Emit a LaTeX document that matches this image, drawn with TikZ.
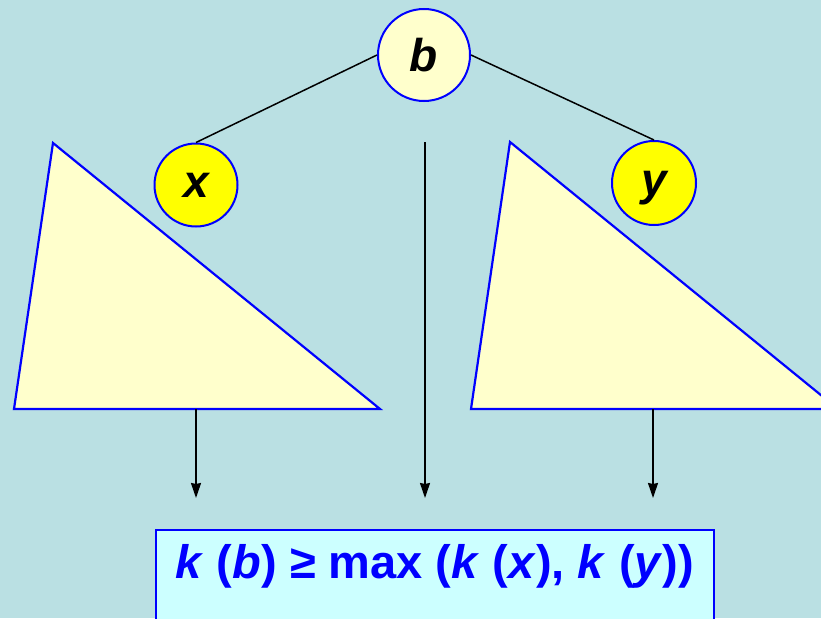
\documentclass[tikz,border=0pt]{standalone}
\usepackage{fontspec}
\setmainfont{Liberation Sans}
\usepackage{tikz}
\usetikzlibrary{positioning, arrows.meta}
\definecolor{slide}{HTML}{BAE0E3}
\definecolor{edge}{HTML}{0000FF}
\definecolor{cream}{HTML}{FFFFCC}
\definecolor{gold}{HTML}{FFFF00}
\definecolor{pale}{HTML}{CCFFFF}

\begin{document}
\begin{tikzpicture}[x=1pt, y=-1pt, >={Stealth[length=15pt,width=10pt,inset=1pt]},
    vertex/.style={circle, draw=edge, line width=2pt, inner sep=0pt, text depth=0pt,
      font=\fontsize{46}{50}\selectfont\bfseries\itshape},
    subtree/.style={draw=edge, line width=2.2pt, fill=cream, line join=miter},
    flow/.style={->, line width=1.6pt}]
    \useasboundingbox (0,0) rectangle (821,618);
    \clip (0,0) rectangle (821,618);
    \fill[slide] (0,0) rectangle (821,618);
    % the two subtrees
    \draw[subtree] (53,143) -- (14,409) -- (380,409) -- cycle;
    \draw[subtree] (510,142) -- (471,409) -- (838,409) -- cycle;
    % nodes of the tree
    \node[vertex, fill=cream, minimum size=92pt] (b) at (424,55) {b};
    \node[vertex, fill=gold, minimum size=83pt] (x) at (196,185) {x};
    \node[vertex, fill=gold, minimum size=84pt] (y) at (654,183) {y};
    \draw[line width=1.5pt] (b.west) -- (x.north);
    \draw[line width=1.5pt] (b.east) -- (y.north);
    % arrows down to the bound
    \coordinate (lfoot) at (196,409);
    \coordinate (mtop) at (425,142);
    \coordinate (rfoot) at (653,409);
    \coordinate (lend) at (196,498);
    \coordinate (mend) at (425,498);
    \coordinate (rend) at (653,498);
    \draw[flow] (lfoot) -- (lend);
    \draw[flow] (mtop) -- (mend);
    \draw[flow] (rfoot) -- (rend);
    \node[draw=edge, line width=2.2pt, fill=pale, anchor=north, minimum width=558pt,
          inner ysep=0pt, text height=48pt, text depth=47pt, text=edge,
          font=\fontsize{47}{51}\selectfont\bfseries] (bound) at (435,529)
      {\textit{k} (\textit{b}) ≥ max (\textit{k} (\textit{x}), \textit{k} (\textit{y}))};
\end{tikzpicture}
\end{document}
